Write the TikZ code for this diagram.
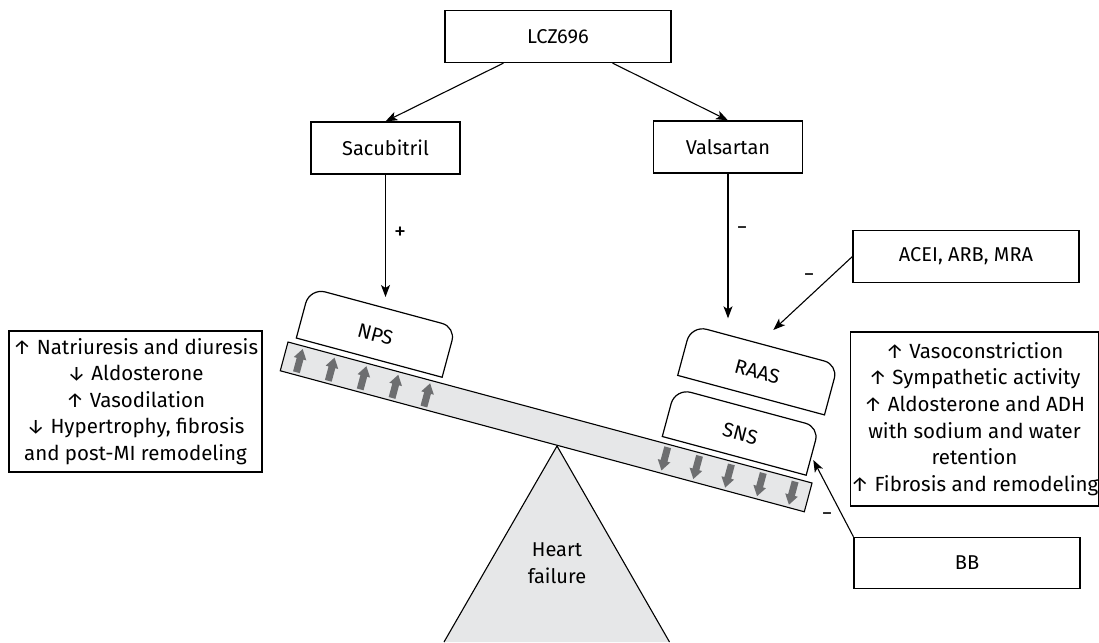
\documentclass[tikz,border=0pt]{standalone}
\usepackage{fontspec}
\setmainfont{Fira Sans}
\usetikzlibrary{arrows.meta}
\definecolor{beamgray}{HTML}{E6E7E8}
\definecolor{arrgray}{HTML}{6D6E70}
\tikzset{
  box/.style={draw, line width=1.2pt, inner sep=0pt, align=center, font=\fontsize{20}{26.6}\selectfont},
  txtbox/.style={draw, line width=1.2pt, inner sep=0pt, align=center, font=\fontsize{20.5}{26.6}\selectfont},
  conn/.style={line width=1.1pt, -{Stealth[length=12pt,width=9pt,inset=3pt]}},
  lbl/.style={font=\fontsize{21}{22}\selectfont, inner sep=0pt},
  pad/.style={draw, line width=1.2pt, fill=white},
  padtext/.style={font=\fontsize{20}{24}\selectfont, rotate=-15.06, inner sep=0pt},
}
\begin{document}
\begin{tikzpicture}[x=1pt,y=1pt]
\useasboundingbox (0,0) rectangle (1099,-642);

% fulcrum triangle
\fill[beamgray] (557,-446) -- (444,-642) -- (669.5,-642) -- cycle;
\draw[line width=1.1pt] (444,-642) -- (557,-446) -- (669.5,-642);
\node[font=\fontsize{20}{27}\selectfont, align=center] (hf) at (557,-563.5) {Heart\\failure};

% top boxes
\node[box, minimum width=226, minimum height=52] (lcz) at (558,-36.5) {LCZ696};
\node[box, minimum width=149, minimum height=52] (sac) at (385.5,-148) {Sacubitril};
\node[box, minimum width=149, minimum height=52] (val) at (728,-147) {Valsartan};
\node[box, minimum width=226, minimum height=52] (acei) at (966,-256.5) {ACEI, ARB, MRA};
\node[box, minimum width=226, minimum height=51] (bb) at (967,-562.8) {BB};

\node[txtbox, minimum width=253, minimum height=141] (left) at (135.5,-401.5)
  {↑ Natriuresis and diuresis\\↓ Aldosterone\\↑ Vasodilation\\↓ Hypertrophy, fibrosis\\and post-MI remodeling};
\node[txtbox, minimum width=245, minimum height=174] (right) at (974.5,-419)
  {↑ Vasoconstriction\\↑ Sympathetic activity\\↑ Aldosterone and ADH\\with sodium and water\\retention\\↑ Fibrosis and remodeling};

% beam and pads
\begin{scope}[shift={(288,-342)}, rotate=-15.06]
  \draw[line width=1.1pt, fill=beamgray] (0,0) rectangle (542.7,-29.8);
  \foreach \s in {16,49,82,115,148} {
    \fill[arrgray] (\s-3.5,-27) -- (\s+3.5,-27) -- (\s+3.5,-13) -- (\s+6.5,-13) -- (\s,-3) -- (\s-6.5,-13) -- (\s-3.5,-13) -- cycle;
  }
  \foreach \s in {394,427,460,493,526} {
    \fill[arrgray] (\s-3.5,-3) -- (\s+3.5,-3) -- (\s+3.5,-17) -- (\s+6.5,-17) -- (\s,-27) -- (\s-6.5,-17) -- (\s-3.5,-17) -- cycle;
  }
  % NPS pad
  \draw[pad] (7,6) -- (7,42) arc[start angle=180,end angle=90,radius=16] -- (144,58) arc[start angle=90,end angle=0,radius=14] -- (158,6) -- cycle;
  \node[padtext] (nps) at (82.5,30) {NPS};
  % SNS pad
  \draw[pad] (386,6) -- (386,40) arc[start angle=180,end angle=90,radius=16] -- (521,56) arc[start angle=90,end angle=0,radius=14] -- (535,6) -- cycle;
  \node[padtext] (sns) at (460.5,29) {SNS};
  % RAAS pad
  \draw[pad] (385,69) -- (385,105) arc[start angle=180,end angle=90,radius=16] -- (523,121) arc[start angle=90,end angle=0,radius=14] -- (537,69) -- cycle;
  \node[padtext] (raas) at (461,93) {RAAS};
\end{scope}

% arrow end points
\coordinate (npsin) at (385.5,-297);
\coordinate (raasin) at (728,-318.3);
\coordinate (raasin2) at (773.3,-330);
\coordinate (snsin) at (813.3,-460);

\draw[conn] (lcz.206) -- (sac.north);
\draw[conn] (lcz.-26) -- (val.north);
\draw[conn] (sac.south) -- (npsin);
\draw[conn] (val.south) -- (raasin);
\draw[conn] (acei.west) -- (raasin2);
\draw[conn] (bb.north west) -- (snsin);

\node[lbl, font=\fontsize{24}{24}\selectfont] (plus) at (400,-233) {+};
\node[lbl] (m1) at (742,-231) {−};
\node[lbl] (m2) at (809,-278) {−};
\node[lbl] (m3) at (827,-517) {−};
\end{tikzpicture}
\end{document}
